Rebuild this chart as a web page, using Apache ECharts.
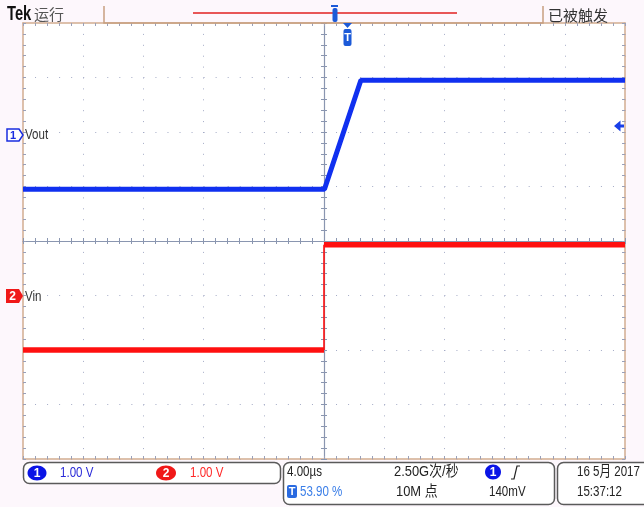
<!DOCTYPE html>
<html><head><meta charset="utf-8">
<script src="https://cdn.jsdelivr.net/npm/echarts@6/dist/echarts.min.js"></script>
<style>html,body{margin:0;padding:0;background:#fdf7fc;}#c{width:644px;height:507px;}</style>
</head><body><div id="c"></div>
<script>
// ---- data (time in µs relative to screen centre, voltage in V) ----
const timeRange = [-20, 20];
const timePerDiv = 4;
const divRange = [-4, 4];
const voutTime  = [-20, 0.03, 2.45, 20];
const voutVolts = [-1.05, -1.05, 0.95, 0.95];
const vinTime   = [-20, 0, 0, 20];
const vinVolts  = [-1.0, -1.0, 0.93, 0.93];
const ch1Offset = 2;   // divisions
const ch2Offset = -1;  // divisions
const ch1Scale = 1.0;  // V/div
const ch2Scale = 1.0;  // V/div
const channelLabels = ['Vout', 'Vin'];
const statusTexts = {
  ch1: '1.00 V', ch2: '1.00 V', timebase: '4.00\u00b5s', rate: '2.50G\u6b21/\u79d2',
  trigPos: '53.90 %', points: '10M \u70b9', trigLevel: '140mV',
  date: '16 5\u6708 2017', time: '15:37:12'
};

const toDiv = (t, v, scale, off) => t.map((x, i) => [x, v[i] / scale + off]);
const voutData = toDiv(voutTime, voutVolts, ch1Scale, ch1Offset);
const vinData = toDiv(vinTime, vinVolts, ch2Scale, ch2Offset);

// split Vin into flat (thick, noisy band) and edge (thin) segments
const vinSeries = [];
for (let i = 0; i < vinData.length - 1; i++) {
  const edge = vinData[i][0] === vinData[i + 1][0];
  vinSeries.push({
    type: 'line', xAxisIndex: 0, yAxisIndex: 0, symbol: 'none', silent: true,
    data: [vinData[i], vinData[i + 1]],
    lineStyle: { color: '#ff1010', width: edge ? 1.6 : 5.5 }, z: 3
  });
}

const NARROW = "'Liberation Sans','Noto Sans CJK SC',sans-serif";
const CJK = "'Noto Sans CJK SC',sans-serif";
const FRAME = '#d2ad90';
const TICK = '#9aa0b8';
const CROSS = '#8a96b0';
const DOT = '#a4abc6';

function frameX(pos, split) {
  return {
    type: 'value', min: timeRange[0], max: timeRange[1], interval: timePerDiv, position: pos,
    axisLine: { show: true, onZero: false, lineStyle: { color: FRAME, width: 1.5 } },
    axisTick: { show: true, inside: true, length: 3, lineStyle: { color: TICK } },
    minorTick: { show: true, splitNumber: 5, length: 3, lineStyle: { color: TICK } },
    splitLine: { show: split, lineStyle: { color: DOT, width: 1, type: [1, 9.9] } },
    minorSplitLine: { show: false }, axisLabel: { show: false }
  };
}
function frameY(pos, split) {
  return {
    type: 'value', min: divRange[0], max: divRange[1], interval: 1, position: pos,
    axisLine: { show: true, onZero: false, lineStyle: { color: FRAME, width: 1.5 } },
    axisTick: { show: true, inside: true, length: 3, lineStyle: { color: TICK } },
    minorTick: { show: true, splitNumber: 5, length: 3, lineStyle: { color: TICK } },
    splitLine: { show: split, lineStyle: { color: DOT, width: 1, type: [1, 11.04] } },
    minorSplitLine: { show: false }, axisLabel: { show: false }
  };
}
function crossX(inside, line) {
  return {
    type: 'value', min: timeRange[0], max: timeRange[1], interval: timePerDiv, position: 'bottom', offset: -218,
    axisLine: { show: line, onZero: false, lineStyle: { color: CROSS, width: 1.2 } },
    axisTick: { show: true, inside: inside, length: 3, lineStyle: { color: CROSS } },
    minorTick: { show: true, splitNumber: 5, length: 3, lineStyle: { color: CROSS } },
    splitLine: { show: false }, axisLabel: { show: false }
  };
}
function crossY(inside, line) {
  return {
    type: 'value', min: divRange[0], max: divRange[1], interval: 1, position: 'left', offset: -301,
    axisLine: { show: line, onZero: false, lineStyle: { color: CROSS, width: 1.2 } },
    axisTick: { show: true, inside: inside, length: 3, lineStyle: { color: CROSS } },
    minorTick: { show: true, splitNumber: 5, length: 3, lineStyle: { color: CROSS } },
    splitLine: { show: false }, axisLabel: { show: false }
  };
}

const BLUE = '#1c5ad8';
function txt(x, y, s, font, fill, sx) {
  return { type: 'text', x: x, y: y, scaleX: sx || 0.77, silent: true, z: 10,
    style: { text: s, font: font, fill: fill, verticalAlign: 'middle', align: 'left' } };
}
function ctxt(x, y, s, font, fill) {
  return { type: 'text', x: x, y: y, silent: true, z: 12,
    style: { text: s, font: font, fill: fill, verticalAlign: 'middle', align: 'center' } };
}

const graphics = [
  // header
  txt(7, 14, 'Tek', "bold 21px " + NARROW, '#111', 0.7),
  txt(34, 14, '\u8fd0\u884c', '15px ' + CJK, '#555', 1),
  { type: 'polyline', silent: true, z: 9, shape: { points: [[104, 6], [104, 23], [543, 23], [543, 6]] },
    style: { stroke: '#c8a080', lineWidth: 1.5, fill: null } },
  { type: 'line', silent: true, z: 9, shape: { x1: 193, y1: 13, x2: 457, y2: 13 }, style: { stroke: '#e02020', lineWidth: 1.5 } },
  { type: 'rect', silent: true, z: 10, shape: { x: 331, y: 5, width: 7, height: 2 }, style: { fill: BLUE } },
  { type: 'rect', silent: true, z: 10, shape: { x: 332.5, y: 8, width: 5, height: 14, r: 2 }, style: { fill: BLUE } },
  txt(548, 15, '\u5df2\u88ab\u89e6\u53d1', '15px ' + CJK, '#333', 1),
  // trigger position marker
  { type: 'polygon', silent: true, z: 10, shape: { points: [[343, 23], [352, 23], [347.5, 28]] }, style: { fill: BLUE } },
  { type: 'rect', silent: true, z: 10, shape: { x: 343.5, y: 29, width: 8, height: 17, r: 2 }, style: { fill: BLUE } },
  ctxt(347.5, 38, 'T', 'bold 11px ' + NARROW, '#fff'),
  // trigger level arrow (right side)
  { type: 'polygon', silent: true, z: 10,
    shape: { points: [[614, 126], [620.5, 120.5], [620.5, 124.5], [624, 124.5], [624, 127.5], [620.5, 127.5], [620.5, 131.5]] },
    style: { fill: '#1a40e8' } },
  // channel markers
  { type: 'polygon', silent: true, z: 10, shape: { points: [[7, 129], [19, 129], [23, 135], [19, 141], [7, 141]] },
    style: { fill: '#fff', stroke: '#1a2ee0', lineWidth: 1.5 } },
  ctxt(13, 135.5, '1', 'bold 11px ' + NARROW, '#1a2ee0'),
  txt(25, 135, channelLabels[0], '15px ' + NARROW, '#333'),
  { type: 'polygon', silent: true, z: 10, shape: { points: [[6, 289], [19, 289], [23, 296], [19, 303], [6, 303]] },
    style: { fill: '#f01818' } },
  ctxt(12.5, 296.5, '2', 'bold 12px ' + NARROW, '#fff'),
  txt(25, 297, channelLabels[1], '15px ' + NARROW, '#333'),
  // status boxes
  { type: 'rect', silent: true, z: 8, shape: { x: 23.5, y: 462.5, width: 257, height: 21, r: 6 },
    style: { fill: '#fff', stroke: '#5a5a5a', lineWidth: 1.5 } },
  { type: 'rect', silent: true, z: 8, shape: { x: 283.5, y: 462.5, width: 271, height: 42, r: 6 },
    style: { fill: '#fff', stroke: '#5a5a5a', lineWidth: 1.5 } },
  { type: 'rect', silent: true, z: 8, shape: { x: 557.5, y: 462.5, width: 100, height: 42, r: 6 },
    style: { fill: '#fff', stroke: '#5a5a5a', lineWidth: 1.5 } },
  { type: 'ellipse', silent: true, z: 10, shape: { cx: 37, cy: 473, rx: 9.5, ry: 7.5 }, style: { fill: '#0a14e6' } },
  ctxt(37, 473.5, '1', 'bold 12px ' + NARROW, '#fff'),
  txt(60, 473, statusTexts.ch1, '15px ' + NARROW, '#2a2ad8'),
  { type: 'ellipse', silent: true, z: 10, shape: { cx: 166, cy: 473, rx: 10, ry: 7.5 }, style: { fill: '#f01818' } },
  ctxt(166, 473.5, '2', 'bold 12px ' + NARROW, '#fff'),
  txt(190, 473, statusTexts.ch2, '15px ' + NARROW, '#ff2828'),
  txt(287, 472, statusTexts.timebase, '15px ' + NARROW, '#222'),
  txt(394, 472, statusTexts.rate, '15px ' + NARROW, '#222', 0.86),
  { type: 'ellipse', silent: true, z: 10, shape: { cx: 493, cy: 472, rx: 8, ry: 7.5 }, style: { fill: '#0a14e6' } },
  ctxt(493, 472.5, '1', 'bold 12px ' + NARROW, '#fff'),
  { type: 'polyline', silent: true, z: 10, shape: { points: [[511, 479], [514, 479], [517, 466], [520, 466]] },
    style: { stroke: '#222', lineWidth: 1.2, fill: null } },
  { type: 'rect', silent: true, z: 10, shape: { x: 287, y: 485, width: 10, height: 13, r: 2 }, style: { fill: '#2a6ae0' } },
  ctxt(292, 491.5, 'T', 'bold 11px ' + NARROW, '#fff'),
  txt(300, 492, statusTexts.trigPos, '15px ' + NARROW, '#3a7ee8'),
  txt(396, 492, statusTexts.points, '15px ' + NARROW, '#222', 0.86),
  txt(489, 492, statusTexts.trigLevel, '15px ' + NARROW, '#222'),
  txt(577, 472, statusTexts.date, '15px ' + NARROW, '#222'),
  txt(577, 492, statusTexts.time, '15px ' + NARROW, '#222')
];

const chart = echarts.init(document.getElementById('c'), null, { renderer: 'canvas' });
chart.setOption({
  animation: false,
  backgroundColor: '#fdf7fc',
  grid: { left: 23, right: 19, top: 23, bottom: 48, show: true, backgroundColor: '#ffffff', borderWidth: 0 },
  xAxis: [frameX('bottom', true), frameX('top', false), crossX(true, true), crossX(false, false)],
  yAxis: [frameY('left', true), frameY('right', false), crossY(true, true), crossY(false, false)],
  series: [{
    type: 'line', xAxisIndex: 0, yAxisIndex: 0, symbol: 'none', silent: true, data: voutData,
    lineStyle: { color: '#1030f0', width: 5 }, z: 3
  }].concat(vinSeries),
  graphic: graphics
});
</script></body></html>
